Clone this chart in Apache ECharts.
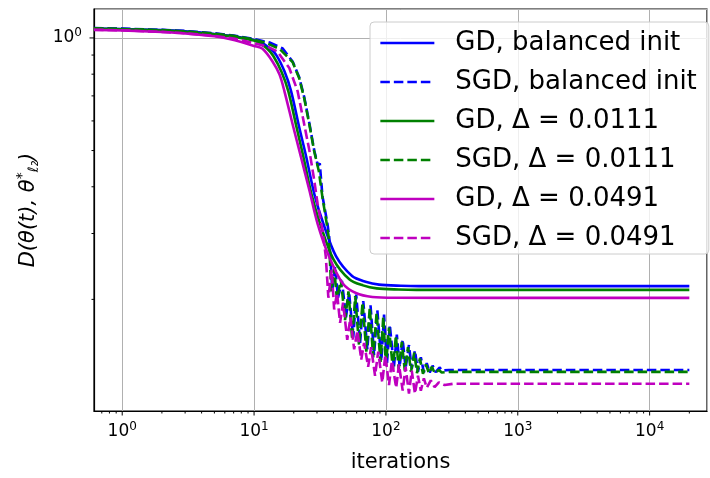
<!DOCTYPE html>
<html>
<head>
<meta charset="utf-8">
<script src="https://cdn.jsdelivr.net/npm/echarts@6/dist/echarts.min.js"></script>
<style>
  html, body { margin: 0; padding: 0; background: #fff; }
  #main { width: 710px; height: 478px; }
</style>
</head>
<body>
<div id="main"></div>
<script>
// 图例名称
var seriesNames = ['GD, balanced init', 'SGD, balanced init', 'GD, Δ = 0.0111', 'SGD, Δ = 0.0111', 'GD, Δ = 0.0491', 'SGD, Δ = 0.0491'];
var seriesColors = ['#0000ff', '#0000ff', '#008000', '#008000', '#bf00bf', '#bf00bf'];

// [iterations, D] 读自原图
var gdBalanced = [[0.611,1.060],[1,1.057],[2,1.049],[3,1.041],[5,1.025],[7,1.011],[10,0.988],[11.6,0.968],[13,0.94],[14.7,0.901],[17,0.814],[19.1,0.72],[22,0.577],[24.9,0.48],[28.6,0.383],[33.5,0.319],[41.8,0.261],[55.4,0.231],[70,0.223],[88.7,0.219],[130,0.2175],[178,0.217],[1000,0.217],[20000,0.217]];
var sgdBalanced = [[0.611,1.063],[1,1.059],[2,1.051],[3,1.044],[5,1.029],[7,1.015],[10,0.993],[13.1,0.972],[16.5,0.937],[19.6,0.865],[22,0.785],[24,0.695],[26.3,0.59],[28.6,0.5],[30.5,0.455],[31.5,0.462],[33,0.378],[36,0.319],[37.1,0.295],
  [39.2,0.212],[41.2,0.245],[43.3,0.202],[46.4,0.224],[49.8,0.179],[52.6,0.208],[56.5,0.158],[59.5,0.206],[63.7,0.153],[67.3,0.198],[72.3,0.147],[76.4,0.193],[81.3,0.142],[86.1,0.187],[92.3,0.137],[96.8,0.182],[101.7,0.134],[107,0.171],[115,0.132],[121,0.161],[127,0.132],[134,0.156],[141,0.131],[149.5,0.151],[157,0.1305],[166,0.146],[175,0.128],[184,0.140],[194,0.1277],[204,0.135],[215,0.1275],[226,0.133],[238,0.1278],[255,0.1315],[268,0.129],[300,0.1295],[1000,0.1295],[20000,0.1295]];
var gdD0111 = [[0.611,1.058],[1,1.055],[2,1.047],[3,1.039],[5,1.022],[7,1.007],[10,0.984],[11.3,0.962],[12.6,0.935],[14,0.895],[16.2,0.81],[18.2,0.72],[21,0.577],[23.7,0.48],[27.2,0.383],[32,0.315],[40,0.256],[53,0.226],[67,0.218],[85,0.214],[125,0.2125],[170,0.212],[1000,0.212],[20000,0.212]];
var sgdD0111 = [[0.611,1.061],[1,1.057],[2,1.049],[3,1.042],[5,1.027],[7,1.013],[10,0.99],[12.3,0.97],[15.6,0.935],[19.6,0.862],[22,0.78],[24,0.69],[26.3,0.585],[28.6,0.497],[31,0.44],[33,0.375],[35.5,0.32],
  [37,0.29],[38.5,0.21],[40.5,0.242],[42.5,0.20],[45.5,0.226],[49,0.176],[52,0.21],[55.5,0.156],[58.5,0.204],[62.5,0.151],[66.5,0.196],[71,0.145],[75.5,0.19],[80,0.14],[85,0.184],[91,0.136],[95.5,0.18],[100,0.133],[105.5,0.168],[113,0.13],[119,0.16],[125,0.13],[132,0.154],[139,0.129],[147,0.149],[155,0.128],[164,0.144],[172,0.127],[181,0.139],[191,0.1265],[201,0.134],[212,0.127],[223,0.132],[235,0.127],[252,0.1295],[265,0.1275],[300,0.128],[1000,0.128],[20000,0.128]];
var gdD0491 = [[0.611,1.050],[1,1.047],[2,1.037],[3,1.028],[5,1.010],[6.5,0.993],[8,0.975],[10,0.952],[11.6,0.935],[13.8,0.865],[15.6,0.798],[17,0.72],[19.6,0.588],[22.7,0.48],[26.3,0.391],[30.3,0.319],[37.1,0.26],[46.9,0.221],[59.2,0.208],[79,0.203],[120,0.202],[1000,0.2018],[20000,0.2018]];
var sgdD0491 = [[0.611,1.052],[1,1.048],[2,1.038],[3,1.029],[5,1.013],[7,0.997],[10,0.968],[12.5,0.95],[15,0.92],[18.5,0.831],[21.4,0.72],[24,0.588],[26.3,0.499],[28.6,0.416],[30.3,0.361],[33,0.307],[35,0.26],
  [36.6,0.202],[38.8,0.24],[40.5,0.188],[42.6,0.208],[44.9,0.173],[47.3,0.196],[50.9,0.156],[53.8,0.179],[57.4,0.147],[60.8,0.165],[65,0.138],[68.3,0.153],[73.3,0.132],[77.2,0.149],[82.7,0.125],[87.4,0.145],[93.8,0.120],[99,0.142],[105.5,0.118],[111,0.137],[119.6,0.116],[125.6,0.134],[134,0.114],[141,0.132],[149.5,0.112],[157,0.129],[166,0.112],[175,0.125],[184,0.114],[194,0.123],[204,0.116],[219,0.1215],[234,0.1165],[252,0.120],[279,0.118],[327,0.119],[1000,0.119],[20000,0.119]];

// 刻度
var xMajorTicks = [1, 10, 100, 1000, 10000];
var xMinorTicks = [0.7,0.8,0.9, 2,3,4,5,6,7,8,9, 20,30,40,50,60,70,80,90, 200,300,400,500,600,700,800,900, 2000,3000,4000,5000,6000,7000,8000,9000, 20000];
var yMajorTicks = [1];
var yMinorTicks = [0.2,0.3,0.4,0.5,0.6,0.7,0.8,0.9];

var xMin = 0.611, xMax = 27230;
var yMin = 0.1006, yMax = 1.195;

var font = 'DejaVu Sans';
var myChart = echarts.init(document.getElementById('main'));

function powLabel(value) {
    var e = Math.round(Math.log10(value));
    if (Math.abs(Math.log10(value) - e) > 1e-6) return '';
    return '{b|10}{s|' + e + '}';
}
var powRich = {
    b: { fontFamily: font, fontSize: 17, color: '#000', lineHeight: 22 },
    s: { fontFamily: font, fontSize: 12, color: '#000', verticalAlign: 'top', lineHeight: 12 }
};

// 刻度线（主 + 次）
function tickSeries(vals, isX, len) {
    return {
        type: 'custom', silent: true, clip: false, z: 5,
        data: vals.map(function (v) { return isX ? [v, yMin] : [xMin, v]; }),
        renderItem: function (params, api) {
            var p = api.coord([api.value(0), api.value(1)]);
            var shape = isX ? { x1: p[0], y1: p[1], x2: p[0], y2: p[1] + len }
                            : { x1: p[0], y1: p[1], x2: p[0] - len, y2: p[1] };
            return { type: 'line', shape: shape, style: { stroke: '#000', lineWidth: 1 } };
        }
    };
}

var curves = [gdBalanced, sgdBalanced, gdD0111, sgdD0111, gdD0491, sgdD0491];
var series = [];
for (var i = 0; i < curves.length; i++) {
    var dashed = (i % 2 === 1);
    series.push({
        name: seriesNames[i],
        type: 'line',
        data: curves[i],
        symbol: 'none',
        showSymbol: false,
        smooth: dashed ? false : 0.3,
        clip: true,
        color: seriesColors[i],
        lineStyle: { color: seriesColors[i], width: 2.6, type: dashed ? [9.5, 4] : 'solid' }
    });
}
series.push(tickSeries(xMajorTicks, true, 4.5));
series.push(tickSeries(xMinorTicks, true, 2.5));
series.push(tickSeries(yMajorTicks, false, 4.5));
series.push(tickSeries(yMinorTicks, false, 2.5));

var option = {
    animation: false,
    backgroundColor: '#fff',
    grid: { left: 94, right: 1, top: 9, bottom: 63, show: true, borderColor: '#000', borderWidth: 1.2, backgroundColor: 'transparent' },
    legend: {
        data: seriesNames,
        orient: 'vertical',
        left: 370, top: 22,
        itemWidth: 54, itemHeight: 14, itemGap: 13,
        padding: [8, 12, 3, 9],
        backgroundColor: 'rgba(255,255,255,0.8)',
        borderColor: '#cccccc', borderWidth: 1, borderRadius: 4,
        itemStyle: { opacity: 0, borderWidth: 0 },
        lineStyle: { width: 2.7 },
        textStyle: { fontFamily: font, fontSize: 26, color: '#000', padding: [0, 0, 0, 16] }
    },
    xAxis: {
        type: 'log', min: xMin, max: xMax,
        name: 'iterations', nameLocation: 'middle', nameGap: 41,
        nameTextStyle: { fontFamily: font, fontSize: 21, color: '#000' },
        axisLine: { show: true, lineStyle: { color: '#000', width: 1.2 } },
        axisTick: { show: false },
        axisLabel: { margin: 10, formatter: powLabel, rich: powRich },
        splitLine: { show: true, lineStyle: { color: '#b0b0b0', width: 1 } },
        minorTick: { show: false }
    },
    yAxis: {
        type: 'log', min: yMin, max: yMax,
        name: '{i|D(θ(t), θ}{s|*}{d|ℓ₂}{i|)}', nameLocation: 'middle', nameGap: 52, nameRotate: 90,
        nameTextStyle: {
            color: '#000',
            rich: {
                i: { fontFamily: font, fontSize: 21, fontStyle: 'italic', color: '#000', lineHeight: 26 },
                s: { fontFamily: font, fontSize: 14, fontStyle: 'italic', color: '#000', verticalAlign: 'top', lineHeight: 14 },
                d: { fontFamily: font, fontSize: 14, fontStyle: 'italic', color: '#000', verticalAlign: 'bottom', lineHeight: 14 }
            }
        },
        axisLine: { show: true, lineStyle: { color: '#000', width: 1.2 } },
        axisTick: { show: false },
        axisLabel: { margin: 12, formatter: powLabel, rich: powRich },
        splitLine: { show: true, lineStyle: { color: '#b0b0b0', width: 1 } }
    },
    series: series
};
myChart.setOption(option);
</script>
</body>
</html>
